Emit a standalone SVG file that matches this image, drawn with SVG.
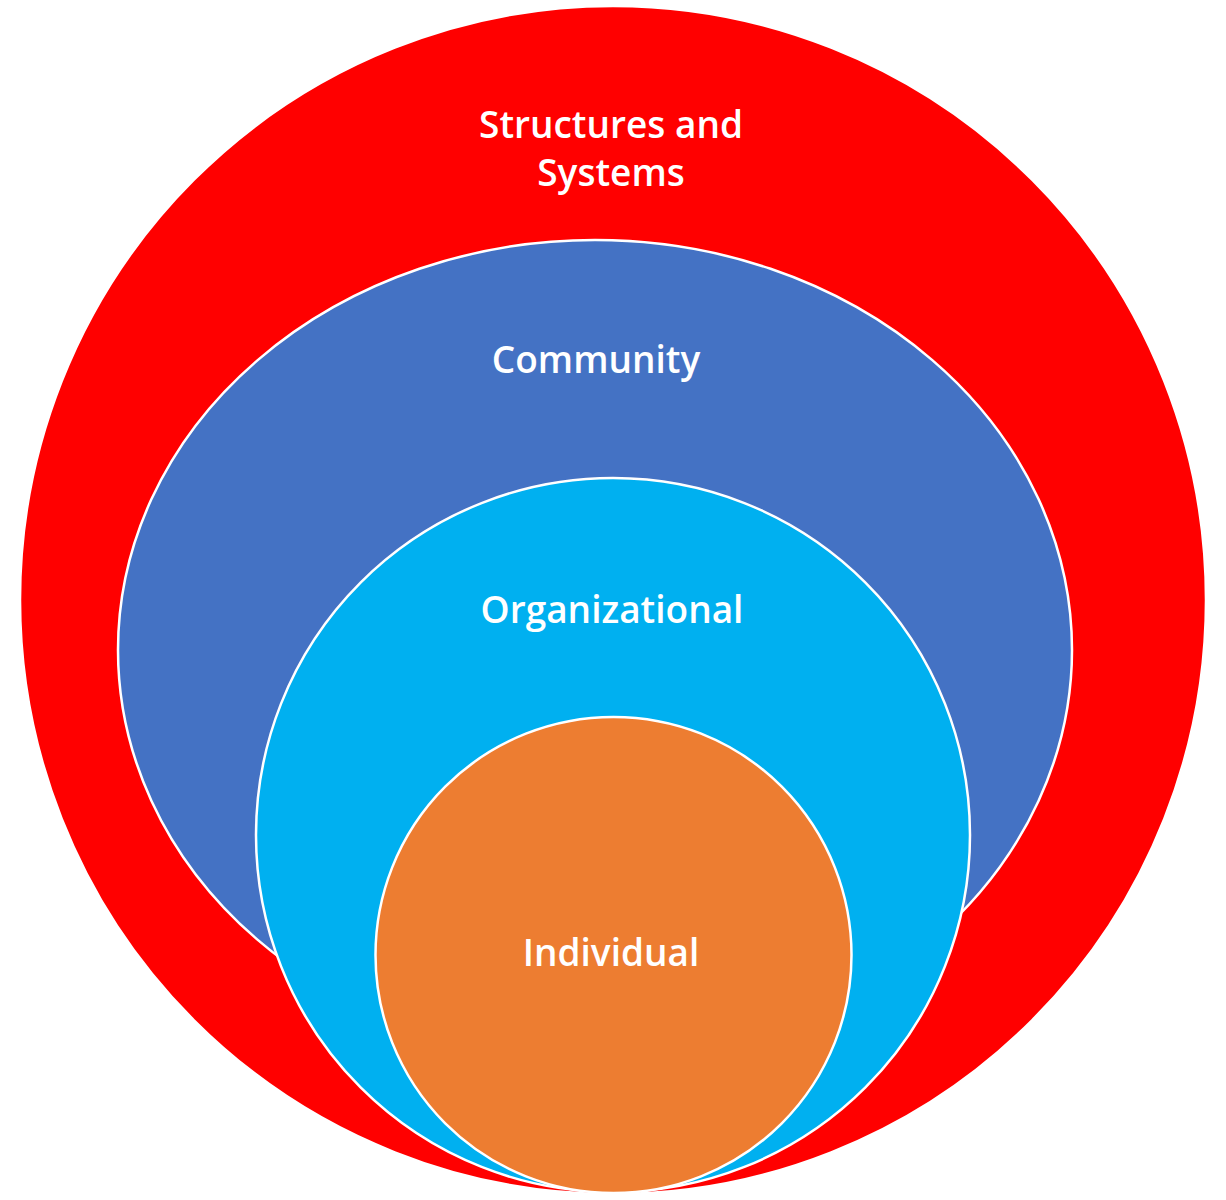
<svg xmlns="http://www.w3.org/2000/svg" width="1226" height="1200" viewBox="0 0 1226 1200">
<style>
.ring{stroke:#FFFFFF;stroke-width:2.5}
.lbl{font-family:"Open Sans","Liberation Sans",sans-serif;font-weight:600;font-size:37px;fill:#FFFFFF;text-anchor:middle}
</style>
<rect width="1226" height="1200" fill="#FFFFFF"/>
<g id="structures">
<ellipse class="ring" cx="613" cy="600" rx="593" ry="594" fill="#FF0000"/>
<text class="lbl" x="611" y="138">Structures and</text>
<text class="lbl" x="611" y="186">Systems</text>
</g>
<g id="community">
<ellipse class="ring" cx="595" cy="650" rx="477" ry="410" fill="#4472C4"/>
<text class="lbl" x="596" y="373">Community</text>
</g>
<g id="organizational">
<ellipse class="ring" cx="613" cy="835" rx="357" ry="357" fill="#00B0F0"/>
<text class="lbl" x="612" y="623">Organizational</text>
</g>
<g id="individual">
<ellipse class="ring" cx="613.5" cy="955" rx="238" ry="238" fill="#ED7D31"/>
<text class="lbl" x="611" y="966">Individual</text>
</g>
<g id="connectors"/>
</svg>
